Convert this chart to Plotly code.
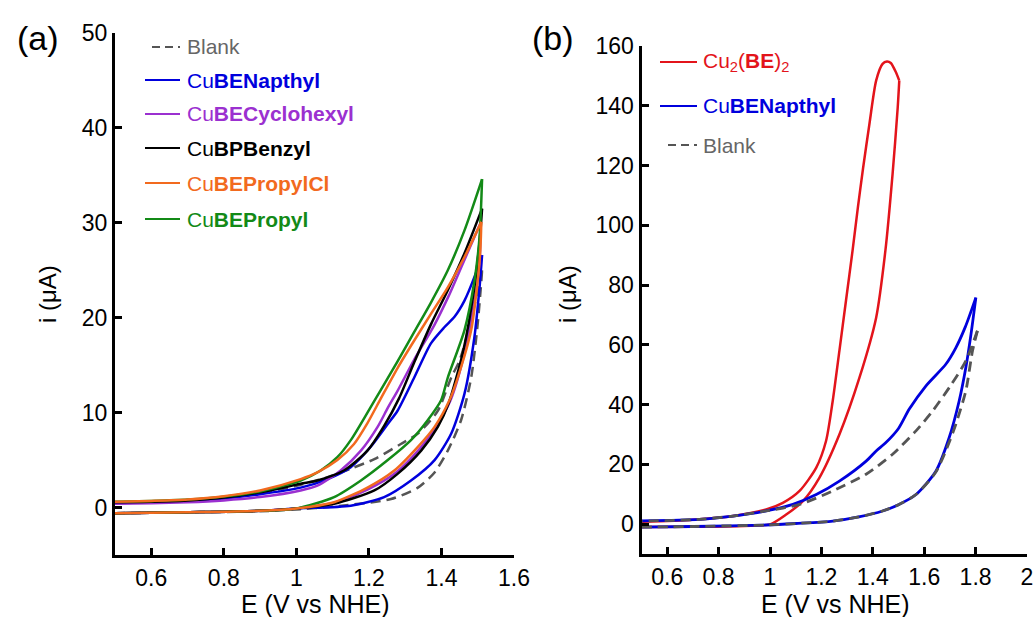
import plotly.graph_objects as go

W, H = 1035, 617

# ---------------- Panel (a) data ----------------
low_fwd_x = [0.5, 0.7, 0.9, 1.0]
low_fwd_y = [-0.6, -0.5, -0.35, -0.1]

green_fwd_x = low_fwd_x + [1.104, 1.178, 1.252, 1.316, 1.362, 1.399, 1.4175, 1.4635, 1.491, 1.505, 1.512]
green_fwd_y = low_fwd_y + [1.1, 2.85, 5.0, 7.1, 9.2, 11.3, 13.7, 18.7, 23.9, 28.5, 34.6]
green_rev_x = [1.512, 1.4635, 1.4175, 1.371, 1.325, 1.279, 1.233, 1.196, 1.150, 1.113, 1.067, 1.012,
               0.9, 0.8, 0.7, 0.6, 0.5]
green_rev_y = [34.6, 29.2, 25.0, 21.6, 18.5, 15.4, 12.4, 10.0, 7.1, 5.3, 3.9, 2.85,
               1.7, 1.15, 0.85, 0.7, 0.6]

orange_fwd_x = low_fwd_x + [1.104, 1.196, 1.270, 1.335, 1.381, 1.422, 1.445, 1.482, 1.5, 1.507, 1.51]
orange_fwd_y = low_fwd_y + [0.56, 2.1, 3.9, 6.4, 8.5, 11.3, 13.7, 18.7, 23.9, 27.0, 30.1]
orange_rev_x = [1.51, 1.4635, 1.4175, 1.371, 1.325, 1.279, 1.233, 1.196, 1.159, 1.113, 1.058, 1.012,
                0.9, 0.8, 0.7, 0.6, 0.5]
orange_rev_y = [30.1, 26.4, 23.2, 20.4, 17.6, 14.7, 11.5, 8.9, 6.7, 5.0, 3.7, 3.0,
                1.8, 1.2, 0.85, 0.7, 0.6]

black_fwd_x = low_fwd_x + [1.104, 1.215, 1.279, 1.344, 1.390, 1.42, 1.46, 1.49, 1.505, 1.512]
black_fwd_y = low_fwd_y + [0.4, 1.8, 3.55, 6.0, 8.5, 11.0, 16.5, 23.0, 28.0, 31.5]
black_rev_x = [1.512, 1.4635, 1.4175, 1.371, 1.325, 1.283, 1.242, 1.196, 1.131, 1.058, 1.012,
               0.9, 0.8, 0.7, 0.6, 0.5]
black_rev_y = [31.5, 26.8, 22.9, 19.3, 15.3, 11.5, 8.6, 6.0, 3.9, 2.85, 2.5,
               1.6, 1.05, 0.75, 0.6, 0.55]

purple_fwd_x = low_fwd_x + [1.104, 1.196, 1.275, 1.34, 1.385, 1.425, 1.465, 1.49, 1.505, 1.508]
purple_fwd_y = low_fwd_y + [0.5, 1.9, 3.7, 6.2, 8.5, 11.3, 16.5, 21.5, 26.0, 30.0]
purple_rev_x = [1.508, 1.46, 1.42, 1.38, 1.325, 1.279, 1.252, 1.224, 1.178, 1.122, 1.058, 1.012,
                0.9, 0.8, 0.7, 0.6, 0.5]
purple_rev_y = [30.0, 25.8, 22.3, 19.2, 15.6, 12.3, 10.5, 8.5, 6.0, 3.9, 2.3, 1.8,
                1.1, 0.75, 0.55, 0.45, 0.4]

blue_fwd_x = low_fwd_x + [1.150, 1.242, 1.316, 1.381, 1.427, 1.4635, 1.491, 1.505, 1.512]
blue_fwd_y = low_fwd_y + [0.2, 1.1, 2.85, 5.0, 7.8, 12.0, 18.0, 23.2, 26.6]
blue_rev_x = [1.512, 1.491, 1.4635, 1.436, 1.408, 1.371, 1.325, 1.279, 1.252, 1.205, 1.150, 1.086, 1.012,
              0.9, 0.8, 0.7, 0.6, 0.5]
blue_rev_y = [26.6, 24.3, 21.8, 20.1, 19.0, 17.3, 13.7, 10.2, 8.8, 6.4, 4.25, 3.0, 2.1,
              1.4, 0.95, 0.7, 0.55, 0.45]

blank_fwd_x = [0.5, 0.7, 0.9, 1.0, 1.1, 1.261, 1.335, 1.381, 1.4175, 1.454, 1.482, 1.5, 1.51, 1.512]
blank_fwd_y = [-0.6, -0.5, -0.4, -0.2, 0.1, 0.9, 2.1, 3.7, 6.0, 9.2, 13.7, 19.4, 23.9, 25.0]
blank_rev_x = [1.512, 1.48, 1.45, 1.427, 1.39, 1.335, 1.288, 1.215, 1.150, 1.086, 1.0, 0.9, 0.8, 0.7, 0.6, 0.5]
blank_rev_y = [25.0, 19.5, 15.5, 13.7, 10.2, 7.8, 6.7, 5.1, 4.1, 3.2, 2.3, 1.5, 1.0, 0.7, 0.55, 0.5]

# ---------------- Panel (b) data ----------------
red_fwd_x = [0.5, 0.7, 0.9, 1.0, 1.063, 1.128, 1.192, 1.27, 1.348, 1.413, 1.449, 1.477, 1.497, 1.503]
red_fwd_y = [-1.0, -0.9, -0.6, -0.1, 3.2, 7.7, 15.5, 30.0, 49.0, 69.1, 91.5, 117.2, 139.5, 148.4]
red_rev_x = [1.503, 1.49, 1.47, 1.455, 1.438, 1.413, 1.387, 1.362, 1.342, 1.322, 1.296, 1.27, 1.244,
             1.218, 1.18, 1.115, 1.05, 0.985, 0.856, 0.7, 0.5]
red_rev_y = [148.4, 151.2, 154.3, 154.8, 154.0, 148.4, 134.0, 119.0, 106.0, 92.0, 75.0, 58.0, 41.2,
             27.8, 18.9, 11.1, 7.1, 4.9, 2.7, 1.5, 0.8]

blueb_fwd_x = [0.5, 0.7, 0.985, 1.1, 1.244, 1.35, 1.438, 1.5, 1.568, 1.646, 1.697, 1.736, 1.762, 1.782, 1.801]
blueb_fwd_y = [-1.0, -0.8, -0.3, 0.2, 1.0, 2.5, 4.4, 6.5, 9.9, 17.8, 28.9, 41.2, 52.4, 63.5, 75.8]
blueb_rev_x = [1.801, 1.76, 1.723, 1.684, 1.607, 1.542, 1.50, 1.45, 1.413, 1.374, 1.27, 1.18, 1.089,
               0.985, 0.856, 0.726, 0.5]
blueb_rev_y = [75.8, 66.0, 59.0, 53.5, 46.3, 38.5, 32.0, 27.2, 24.5, 21.1, 14.4, 9.9, 6.6,
               4.4, 2.7, 1.6, 1.1]

blankb_fwd_x = [0.5, 0.7, 0.985, 1.1, 1.244, 1.35, 1.438, 1.5, 1.568, 1.646, 1.70, 1.723, 1.762, 1.788, 1.807]
blankb_fwd_y = [-1.0, -0.8, -0.3, 0.2, 1.0, 2.5, 4.4, 6.5, 9.9, 17.5, 28.0, 33.4, 44.6, 58.0, 64.7]
blankb_rev_x = [1.807, 1.762, 1.70, 1.633, 1.568, 1.477, 1.374, 1.244, 1.115, 0.985, 0.856, 0.726, 0.5]
blankb_rev_y = [64.7, 54.6, 46.0, 37.9, 31.2, 23.4, 16.7, 11.1, 6.6, 4.4, 2.7, 1.6, 1.0]

xticks_a = [0.6, 0.8, 1.0, 1.2, 1.4, 1.6]
xticklabels_a = ["0.6", "0.8", "1", "1.2", "1.4", "1.6"]
yticks_a = [0, 10, 20, 30, 40, 50]
xticks_b = [0.6, 0.8, 1.0, 1.2, 1.4, 1.6, 1.8, 2.0]
xticklabels_b = ["0.6", "0.8", "1", "1.2", "1.4", "1.6", "1.8", "2"]
yticks_b = [0, 20, 40, 60, 80, 100, 120, 140, 160]

C_BLUE = "#0000dd"
C_PURPLE = "#9b30d0"
C_BLACK = "#000000"
C_ORANGE = "#f26a1e"
C_GREEN = "#138a17"
C_BLANK = "#555555"
C_RED = "#e3141b"

FONT = "Liberation Sans, Arial, sans-serif"
DASH = "10px,6px"

fig = go.Figure()


def add_cv(xf, yf, xr, yr, color, xa, ya, dash="solid", width=2.5):
    for xs, ys in ((xf, yf), (xr, yr)):
        fig.add_trace(go.Scatter(
            x=xs, y=ys, mode="lines", xaxis=xa, yaxis=ya, showlegend=False,
            line=dict(color=color, width=width, dash=dash, shape="spline", smoothing=0.7),
            hoverinfo="skip"))


# panel a
add_cv(blank_fwd_x, blank_fwd_y, blank_rev_x, blank_rev_y, C_BLANK, "x", "y", dash=DASH)
add_cv(blue_fwd_x, blue_fwd_y, blue_rev_x, blue_rev_y, C_BLUE, "x", "y")
add_cv(purple_fwd_x, purple_fwd_y, purple_rev_x, purple_rev_y, C_PURPLE, "x", "y")
add_cv(black_fwd_x, black_fwd_y, black_rev_x, black_rev_y, C_BLACK, "x", "y")
add_cv(green_fwd_x, green_fwd_y, green_rev_x, green_rev_y, C_GREEN, "x", "y")
add_cv(orange_fwd_x, orange_fwd_y, orange_rev_x, orange_rev_y, C_ORANGE, "x", "y")
# panel b
add_cv(red_fwd_x, red_fwd_y, red_rev_x, red_rev_y, C_RED, "x2", "y2")
add_cv(blueb_fwd_x, blueb_fwd_y, blueb_rev_x, blueb_rev_y, C_BLUE, "x2", "y2", width=2.8)
add_cv(blankb_fwd_x, blankb_fwd_y, blankb_rev_x, blankb_rev_y, C_BLANK, "x2", "y2", dash=DASH, width=2.8)


def px(x):
    return x / W


def py(y):
    return 1 - y / H


axis_common = dict(
    showline=True, linewidth=3, linecolor="black", mirror=False,
    ticks="inside", ticklen=7, tickwidth=3, tickcolor="black",
    showgrid=False, zeroline=False, automargin=False,
    tickfont=dict(family=FONT, size=23, color="black"),
)

fig.update_layout(
    width=W, height=H, margin=dict(l=0, r=0, t=0, b=0, pad=0, autoexpand=False),
    paper_bgcolor="white", plot_bgcolor="white",
    font=dict(family=FONT),
    xaxis=dict(domain=[px(115), px(514)], range=[0.5, 1.6], tickvals=xticks_a,
               ticktext=xticklabels_a, anchor="y", **axis_common),
    yaxis=dict(domain=[py(555), py(33)], range=[-5, 50], tickvals=yticks_a, anchor="x", **axis_common),
    xaxis2=dict(domain=[px(641.5), px(1027)], range=[0.5, 2.0], tickvals=xticks_b,
                ticktext=xticklabels_b, anchor="y2", **axis_common),
    yaxis2=dict(domain=[py(554), py(46)], range=[-10, 160], tickvals=yticks_b, anchor="x2", **axis_common),
)

ann = []
# axis titles
for xc in (315, 835):
    ann.append(dict(x=px(xc), y=py(604), text="E (V vs NHE)", showarrow=False, xanchor="center",
                    yanchor="middle", font=dict(family=FONT, size=25, color="black"),
                    xref="paper", yref="paper"))
for xc in (47, 567):
    ann.append(dict(x=px(xc), y=py(294), text="i (μA)", showarrow=False, xanchor="center",
                    yanchor="middle", textangle=-90, font=dict(family=FONT, size=24, color="black"),
                    xref="paper", yref="paper"))
# panel labels
ann.append(dict(x=px(38), y=py(38), text="(a)", showarrow=False, xanchor="center", yanchor="middle",
                font=dict(family=FONT, size=34, color="black"), xref="paper", yref="paper"))
ann.append(dict(x=px(553), y=py(38), text="(b)", showarrow=False, xanchor="center", yanchor="middle",
                font=dict(family=FONT, size=34, color="black"), xref="paper", yref="paper"))

# legends
legend_a = [
    ("Blank", "#666666", C_BLANK, "dash", 47),
    ("Cu<b>BENapthyl</b>", C_BLUE, C_BLUE, "solid", 80),
    ("Cu<b>BECyclohexyl</b>", C_PURPLE, C_PURPLE, "solid", 114),
    ("Cu<b>BPBenzyl</b>", C_BLACK, C_BLACK, "solid", 148),
    ("Cu<b>BEPropylCl</b>", C_ORANGE, C_ORANGE, "solid", 183),
    ("Cu<b>BEPropyl</b>", C_GREEN, C_GREEN, "solid", 219),
]
legend_b = [
    ("Cu<sub>2</sub>(<b>BE</b>)<sub>2</sub>", C_RED, C_RED, "solid", 62),
    ("Cu<b>BENapthyl</b>", C_BLUE, C_BLUE, "solid", 106),
    ("Blank", "#666666", C_BLANK, "dash", 145),
]
shapes = []
for items, x0, x0d, x1, xt in ((legend_a, 145, 152, 180, 185), (legend_b, 660, 668, 697, 701)):
    for text, tcol, lcol, dash, yy in items:
        start = x0d if dash == "dash" else x0
        shapes.append(dict(type="line", xref="paper", yref="paper", x0=px(start), x1=px(x1),
                           y0=py(yy), y1=py(yy),
                           line=dict(color=lcol, width=2, dash="8px,5px" if dash == "dash" else "solid")))
        ann.append(dict(x=px(xt), y=py(yy), text=text, showarrow=False, xanchor="left", yanchor="middle",
                        font=dict(family=FONT, size=21, color=tcol), xref="paper", yref="paper"))

fig.update_layout(annotations=ann, shapes=shapes)
fig.write_html("out.html")
